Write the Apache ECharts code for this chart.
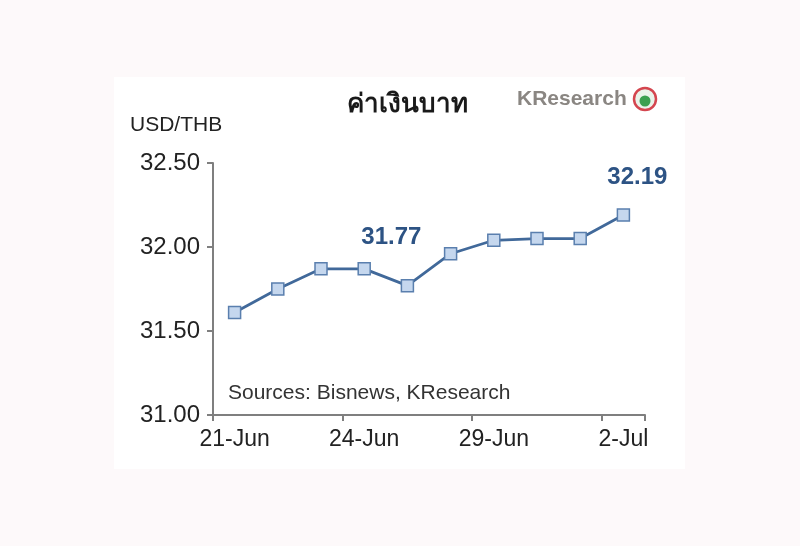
<!DOCTYPE html>
<html>
<head>
<meta charset="utf-8">
<script src="https://cdn.jsdelivr.net/npm/echarts@6/dist/echarts.min.js"></script>
<style>
html,body{margin:0;padding:0;background:#fdf9fa;}
#chart{width:800px;height:546px;}
</style>
</head>
<body>
<div id="chart"></div>
<script>
var categories = ['21-Jun','22-Jun','23-Jun','24-Jun','25-Jun','28-Jun','29-Jun','30-Jun','1-Jul','2-Jul'];
var values = [31.61, 31.75, 31.87, 31.87, 31.77, 31.96, 32.04, 32.05, 32.05, 32.19];
var yTicks = [31.00, 31.50, 32.00, 32.50];
var titleText = 'ค่าเงินบาท';
var unitText = 'USD/THB';
var sourceText = 'Sources: Bisnews, KResearch';
var logoText = 'KResearch';
var labelledIdx = [4, 9];

var FONT = "'Liberation Sans', Arial, 'Noto Sans', sans-serif";
var labelOffsets = {4: [-16, -25], 9: [14, -14]};

var seriesData = values.map(function (v, i) {
  var item = {value: v};
  if (labelledIdx.indexOf(i) >= 0) {
    item.label = {
      show: true, position: 'top', offset: labelOffsets[i],
      formatter: function (p) { return p.value.toFixed(2); },
      color: '#2d5384', fontWeight: 'bold', fontSize: 24, fontFamily: FONT
    };
  }
  return item;
});

var chart = echarts.init(document.getElementById('chart'), null, {renderer: 'canvas'});
chart.setOption({
  backgroundColor: '#fdf9fa',
  animation: false,
  grid: {left: 213, right: 155, top: 163, bottom: 131, containLabel: false},
  graphic: [
    {type: 'rect', shape: {x: 114, y: 77, width: 571, height: 392}, style: {fill: '#ffffff'}, z: -10},
    {type: 'text', style: {text: titleText, x: 407, y: 105, align: 'center', verticalAlign: 'middle', font: "bold 26px 'Liberation Sans', 'Noto Sans', 'DejaVu Sans', sans-serif", fill: '#1a1a1a'}},
    {type: 'text', style: {text: unitText, x: 130, y: 125, verticalAlign: 'middle', font: "21px " + FONT, fill: '#222'}},
    {type: 'text', style: {text: sourceText, x: 228, y: 393, verticalAlign: 'middle', font: "21px " + FONT, fill: '#333'}},
    {type: 'text', style: {text: logoText, x: 517, y: 99, verticalAlign: 'middle', font: "bold 21px 'Liberation Sans Narrow', " + FONT, fill: '#8a8682'}},
    {type: 'circle', shape: {cx: 645, cy: 99, r: 11}, style: {fill: '#e9f3ea', stroke: '#d4464f', lineWidth: 2.5}},
    {type: 'circle', shape: {cx: 645, cy: 101, r: 5.5}, style: {fill: '#3aa050'}}
  ],
  xAxis: {
    type: 'category',
    data: categories,
    boundaryGap: true,
    axisLine: {lineStyle: {color: '#7f7f7f', width: 2}},
    axisTick: {show: true, interval: 2, length: 6, alignWithLabel: false, lineStyle: {color: '#7f7f7f', width: 2}},
    axisLabel: {interval: 2, margin: 13, fontSize: 23, color: '#222', fontFamily: FONT},
    splitLine: {show: false}
  },
  yAxis: {
    type: 'value',
    min: yTicks[0], max: yTicks[yTicks.length - 1], interval: 0.5,
    axisLine: {show: true, lineStyle: {color: '#7f7f7f', width: 2}},
    axisTick: {show: true, length: 6, lineStyle: {color: '#7f7f7f', width: 2}},
    axisLabel: {margin: 13, fontSize: 24, color: '#222', fontFamily: FONT,
      formatter: function (v) { return v.toFixed(2); }},
    splitLine: {show: false}
  },
  series: [{
    type: 'line',
    data: seriesData,
    symbol: 'rect',
    symbolSize: 12,
    lineStyle: {color: '#41699a', width: 2.8},
    itemStyle: {color: '#c5d7ee', borderColor: '#5a7fae', borderWidth: 1.5},
    label: {show: false}
  }]
});
</script>
</body>
</html>
